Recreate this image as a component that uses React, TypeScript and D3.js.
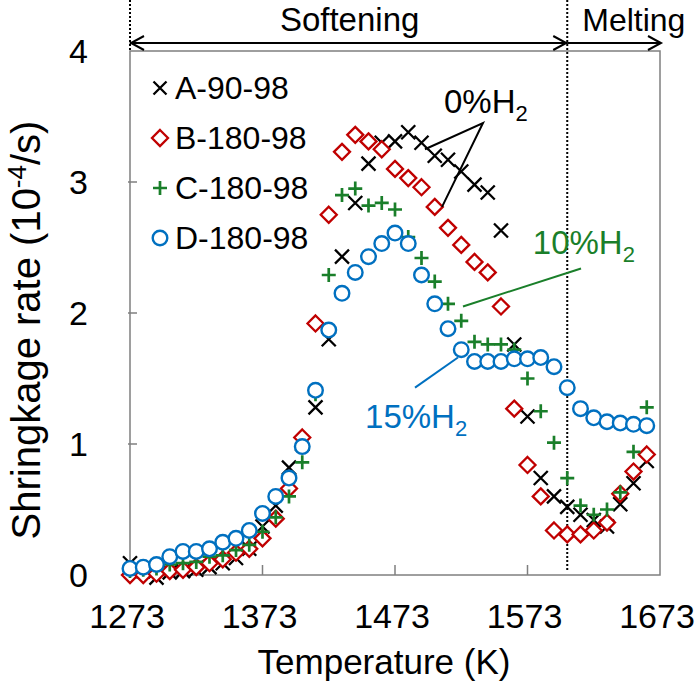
import React, { useRef, useEffect } from 'react';
import * as d3 from 'd3';

// temperature (K), one reading every 10 K
const temps = [
  1273, 1283, 1293, 1303, 1313, 1323, 1333, 1343, 1353, 1363,
  1373, 1383, 1393, 1403, 1413, 1423, 1433, 1443, 1453, 1463,
  1473, 1483, 1493, 1503, 1513, 1523, 1533, 1543, 1553, 1563,
  1573, 1583, 1593, 1603, 1613, 1623, 1633, 1643, 1653, 1663,
];

// shrinkage rate (10^-4 /s)
const seriesA = [
  0.09, 0.03, -0.02, 0.02, 0.03, 0.04, 0.06, 0.09, 0.13, 0.2,
  0.37, 0.53, 0.82, 1.0, 1.28, 1.8, 2.43, 2.84, 3.14, 3.3,
  3.31, 3.38, 3.3, 3.2, 3.17, 3.08, 2.98, 2.92, 2.63, 1.76,
  1.21, 0.74, 0.6, 0.52, 0.46, 0.42, 0.37, 0.54, 0.7, 0.87,
];
const seriesB = [
  0.0, 0.0, 0.01, 0.03, 0.04, 0.06, 0.09, 0.12, 0.17, 0.2,
  0.28, 0.43, 0.66, 1.05, 1.92, 2.75, 3.23, 3.36, 3.31, 3.25,
  3.1, 3.03, 2.96, 2.81, 2.65, 2.52, 2.39, 2.31, 2.05, 1.27,
  0.84, 0.6, 0.34, 0.31, 0.31, 0.34, 0.4, 0.62, 0.79, 0.92,
];
const seriesC = [
  0.03, 0.04, 0.05, 0.08, 0.09, 0.1, 0.14, 0.15, 0.19, 0.23,
  0.33, 0.44, 0.6, 0.86, 1.38, 2.29, 2.9, 2.95, 2.82, 2.84,
  2.79, 2.58, 2.42, 2.24, 2.07, 1.94, 1.78, 1.76, 1.76, 1.72,
  1.5, 1.25, 1.01, 0.74, 0.53, 0.46, 0.5, 0.63, 0.94, 1.28,
];
const seriesD = [
  0.05, 0.06, 0.08, 0.14, 0.18, 0.18, 0.2, 0.25, 0.28, 0.34,
  0.47, 0.6, 0.74, 0.98, 1.41, 1.87, 2.15, 2.31, 2.43, 2.53,
  2.61, 2.53, 2.29, 2.07, 1.88, 1.72, 1.63, 1.63, 1.63, 1.65,
  1.65, 1.66, 1.59, 1.43, 1.27, 1.2, 1.17, 1.16, 1.15, 1.14,
];

const seriesNames = ['A-90-98', 'B-180-98', 'C-180-98', 'D-180-98'];
const xTicks = [1273, 1373, 1473, 1573, 1673];
const yTicks = [0, 1, 2, 3, 4];
const meltStart = 1603;

const FONT = '"Liberation Sans", Arial, sans-serif';
const BLUE = '#0070c0';
const RED = '#c00000';
const GREEN = '#1a7f2a';

const crossPath = (s: number) => `M${-s},${-s}L${s},${s}M${-s},${s}L${s},${-s}`;
const plusPath = (s: number) => `M${-s},0L${s},0M0,${-s}L0,${s}`;
const diamondPath = (s: number) => `M0,${-s}L${s},0L0,${s}L${-s},0Z`;

const App: React.FC = () => {
  const chartRef = useRef<SVGSVGElement | null>(null);

  useEffect(() => {
    if (!chartRef.current) return;
    const svg = d3.select(chartRef.current);
    svg.selectAll('*').remove();

    const x = d3.scaleLinear().domain([1273, 1673]).range([130, 660]);
    const y = d3.scaleLinear().domain([0, 4]).range([575, 51]);

    // plot frame
    svg.append('rect')
      .attr('x', x(1273)).attr('y', y(4))
      .attr('width', x(1673) - x(1273)).attr('height', y(0) - y(4))
      .attr('fill', 'none').attr('stroke', '#7f7f7f').attr('stroke-width', 1.5);

    // ticks pointing inward
    svg.append('g').selectAll('line').data(xTicks.slice(1, -1)).enter().append('line')
      .attr('x1', (d) => x(d)).attr('x2', (d) => x(d))
      .attr('y1', y(0)).attr('y2', y(0) - 10)
      .attr('stroke', '#7f7f7f').attr('stroke-width', 1.5);
    svg.append('g').selectAll('line').data(yTicks.slice(1, -1)).enter().append('line')
      .attr('x1', x(1273) - 2).attr('x2', x(1273) + 7)
      .attr('y1', (d) => y(d)).attr('y2', (d) => y(d))
      .attr('stroke', '#7f7f7f').attr('stroke-width', 1.5);

    // tick labels
    svg.append('g').selectAll('text').data(xTicks).enter().append('text')
      .attr('x', (d) => x(d) - 3).attr('y', 628)
      .attr('text-anchor', 'middle')
      .style('font-family', FONT).style('font-size', '34px')
      .text((d) => d);
    svg.append('g').selectAll('text').data(yTicks).enter().append('text')
      .attr('x', 88).attr('y', (d) => y(d) + 12)
      .attr('text-anchor', 'end')
      .style('font-family', FONT).style('font-size', '34px')
      .text((d) => d);

    // axis titles
    svg.append('text')
      .attr('x', 384).attr('y', 674)
      .attr('text-anchor', 'middle')
      .style('font-family', FONT).style('font-size', '35px')
      .text('Temperature (K)');

    const yTitle = svg.append('text')
      .attr('transform', `translate(40, 330) rotate(-90)`)
      .attr('text-anchor', 'middle')
      .style('font-family', FONT).style('font-size', '40px');
    yTitle.append('tspan').text('Shringkage rate (10');
    yTitle.append('tspan').attr('dy', -14).style('font-size', '26px').text('-4');
    yTitle.append('tspan').attr('dy', 14).text('/s)');

    // dotted region boundaries
    svg.append('line')
      .attr('x1', x(1273)).attr('x2', x(1273)).attr('y1', 0).attr('y2', y(4))
      .attr('stroke', '#000').attr('stroke-width', 2).attr('stroke-dasharray', '2,2');
    svg.append('line')
      .attr('x1', x(meltStart)).attr('x2', x(meltStart)).attr('y1', 0).attr('y2', y(0) - 5)
      .attr('stroke', '#000').attr('stroke-width', 2).attr('stroke-dasharray', '2,2');

    // range arrows
    const arrowY = 43;
    const arrows = svg.append('g').attr('fill', 'none').attr('stroke', '#000').attr('stroke-width', 2);
    arrows.append('line').attr('x1', x(1273)).attr('x2', x(meltStart)).attr('y1', arrowY).attr('y2', arrowY);
    arrows.append('line').attr('x1', x(meltStart)).attr('x2', x(1673)).attr('y1', arrowY).attr('y2', arrowY);
    const head = (tipX: number, dir: number) =>
      `M${tipX + dir * 13},${arrowY - 7}L${tipX},${arrowY}L${tipX + dir * 13},${arrowY + 7}`;
    arrows.append('path').attr('d', head(x(1273) + 1, 1));
    arrows.append('path').attr('d', head(x(meltStart) - 1, -1));
    arrows.append('path').attr('d', head(x(1673) + 1, -1));

    svg.append('text')
      .attr('x', (x(1273) + x(meltStart)) / 2 + 1).attr('y', 31)
      .attr('text-anchor', 'middle')
      .style('font-family', FONT).style('font-size', '33px')
      .text('Softening');
    svg.append('text')
      .attr('x', x(meltStart) + 15).attr('y', 31)
      .style('font-family', FONT).style('font-size', '32px')
      .text('Melting');

    // data
    const pts = (vals: number[]) => temps.map((t, i) => ({ t, v: vals[i] }));

    svg.append('g').selectAll('path').data(pts(seriesA)).enter().append('path')
      .attr('transform', (d) => `translate(${x(d.t)},${y(d.v)})`)
      .attr('d', crossPath(7))
      .attr('fill', 'none').attr('stroke', '#000').attr('stroke-width', 2.3);

    svg.append('g').selectAll('path').data(pts(seriesB)).enter().append('path')
      .attr('transform', (d) => `translate(${x(d.t)},${y(d.v)})`)
      .attr('d', diamondPath(8))
      .attr('fill', '#fff').attr('stroke', RED).attr('stroke-width', 2.3);

    svg.append('g').selectAll('path').data(pts(seriesC)).enter().append('path')
      .attr('transform', (d) => `translate(${x(d.t)},${y(d.v)})`)
      .attr('d', plusPath(7))
      .attr('fill', 'none').attr('stroke', GREEN).attr('stroke-width', 2.7);

    svg.append('g').selectAll('circle').data(pts(seriesD)).enter().append('circle')
      .attr('cx', (d) => x(d.t)).attr('cy', (d) => y(d.v)).attr('r', 7.3)
      .attr('fill', '#fff').attr('stroke', BLUE).attr('stroke-width', 2.4);

    // annotations (data coordinates)
    const ann = svg.append('g').attr('stroke-width', 2);
    ann.append('path')
      .attr('d', `M${x(1495.6)},${y(3.25)}L${x(1539.4)},${y(3.45)}L${x(1508.5)},${y(2.81)}`)
      .attr('fill', 'none').attr('stroke', '#000');
    ann.append('line')
      .attr('x1', x(1524.3)).attr('y1', y(2.05)).attr('x2', x(1613.4)).attr('y2', y(2.34))
      .attr('stroke', GREEN);
    ann.append('line')
      .attr('x1', x(1488.1)).attr('y1', y(1.43)).attr('x2', x(1520.5)).attr('y2', y(1.66))
      .attr('stroke', BLUE);

    const label = (t: number, v: number, pct: string, color: string) => {
      const txt = svg.append('text')
        .attr('x', x(t)).attr('y', y(v))
        .attr('fill', color)
        .style('font-family', FONT).style('font-size', '33px');
      txt.append('tspan').text(`${pct}%H`);
      txt.append('tspan').attr('dy', 8).style('font-size', '22px').text('2');
    };
    label(1510, 3.53, '0', '#000');
    label(1577, 2.45, '10', GREEN);
    label(1450.4, 1.12, '15', BLUE);

    // legend
    const legend = svg.append('g');
    const lx = 160;
    const rows = [88, 138, 188, 238];
    legend.append('path').attr('transform', `translate(${lx},${rows[0]})`)
      .attr('d', crossPath(6.5)).attr('fill', 'none').attr('stroke', '#000').attr('stroke-width', 2.3);
    legend.append('path').attr('transform', `translate(${lx},${rows[1]})`)
      .attr('d', diamondPath(8)).attr('fill', '#fff').attr('stroke', RED).attr('stroke-width', 2.3);
    legend.append('path').attr('transform', `translate(${lx},${rows[2]})`)
      .attr('d', plusPath(7)).attr('fill', 'none').attr('stroke', GREEN).attr('stroke-width', 2.7);
    legend.append('circle').attr('cx', lx).attr('cy', rows[3]).attr('r', 7.3)
      .attr('fill', '#fff').attr('stroke', BLUE).attr('stroke-width', 2.4);
    legend.selectAll('text').data(seriesNames).enter().append('text')
      .attr('x', 175).attr('y', (d, i) => rows[i] + 11)
      .style('font-family', FONT).style('font-size', '32px')
      .text((d) => d);
  }, []);

  return (
    <div style={{ position: 'absolute', left: 0, top: 0 }}>
      <svg ref={chartRef} width={700} height={687} style={{ display: 'block', background: '#fff' }}></svg>
    </div>
  );
};

export default App;
